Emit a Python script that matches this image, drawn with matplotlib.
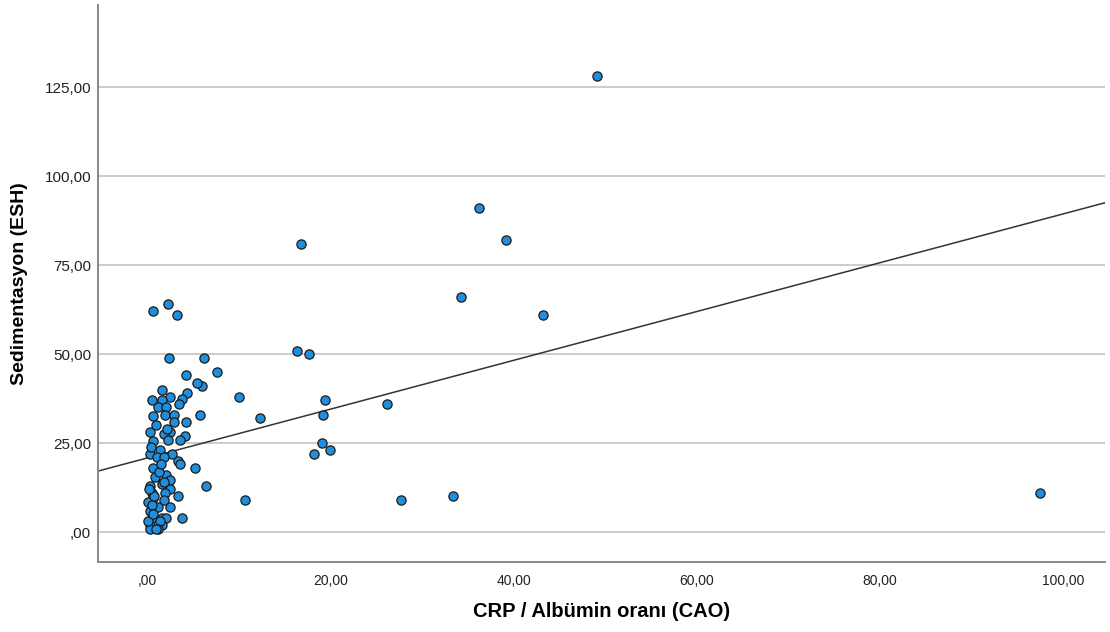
import numpy as np
import matplotlib.pyplot as plt
from matplotlib.ticker import FuncFormatter

# CRP / Albumin ratio (x) and sedimentation (y)
cao = [49.1, 36.2, 39.2, 16.8, 34.3, 43.2, 16.4, 17.7, 26.2, 19.4,
       19.2, 19.1, 18.2, 20.0, 12.3, 10.0, 7.6, 6.2, 6.0, 5.4,
       4.4, 4.2, 5.8, 4.3, 4.1, 5.2, 6.4, 10.7, 27.7, 33.4,
       97.4, 0.6, 2.3, 3.3, 2.4, 3.8, 3.4,
       1.6, 2.5, 0.5, 1.6, 3.8, 3.5, 1.2, 2.1, 0.7, 2.0,
       2.9, 2.9, 0.3, 2.5, 1.8, 3.6, 0.7, 2.3, 0.3, 1.4,
       2.7, 1.1, 1.8, 3.4, 3.6, 0.7, 0.9, 2.1, 2.5, 0.3,
       1.6, 2.5, 0.5, 2.0, 0.7, 1.8, 0.1, 2.5, 1.2, 0.3,
       1.6, 0.5, 2.1, 0.3, 1.6, 1.4, 0.3, 1.2, 0.1, 0.5,
       1.0, 0.4, 1.3, 0.8, 1.9, 0.6, 1.5, 2.2, 0.2, 1.0]
esh = [128.0, 91.0, 82.0, 81.0, 66.0, 61.0, 51.0, 50.0, 36.0, 37.0,
       33.0, 25.0, 22.0, 23.0, 32.0, 38.0, 45.0, 49.0, 41.0, 42.0,
       39.0, 44.0, 33.0, 31.0, 27.0, 18.0, 13.0, 9.0, 9.0, 10.0,
       11.0, 62.0, 64.0, 61.0, 49.0, 4.0, 10.0,
       40.0, 38.0, 37.0, 37.0, 37.5, 36.0, 35.0, 35.0, 32.5, 33.0,
       33.0, 31.0, 28.0, 28.0, 27.5, 26.0, 25.5, 26.0, 22.0, 23.0,
       22.0, 21.0, 21.0, 20.0, 19.0, 18.0, 15.5, 16.0, 14.5, 13.0,
       13.5, 12.0, 11.0, 11.0, 9.5, 9.0, 8.5, 7.0, 7.0, 6.0,
       4.0, 4.0, 4.0, 2.0, 2.0, 3.0, 1.0, 1.0, 3.0, 7.5,
       30.0, 24.0, 17.0, 10.0, 14.0, 5.0, 19.0, 29.0, 12.0, 1.0]

# fit line as shown in the original (intercept, slope)
fit_intercept = 20.8
fit_slope = 0.686

xlim = (-5.35, 104.5)
ylim = (-8.4, 148)


def spss_fmt(v, pos):
    s = f"{v:.2f}".replace('.', ',')
    if s.startswith('0,'):
        s = s[1:]
    return s


plt.rcParams['font.family'] = ['Liberation Sans', 'DejaVu Sans']

fig = plt.figure(figsize=(11.1, 6.32), dpi=100)
ax = fig.add_axes([0.0883, 0.1108, 0.907, 0.881])

ax.scatter(cao, esh, s=44, c='#1f8fdd', edgecolors='#1a1a1a', linewidths=0.9, zorder=3)

xs = np.array(xlim)
ax.plot(xs, fit_intercept + fit_slope * xs, color='#333333', linewidth=1.1, zorder=2)

ax.set_xlim(xlim)
ax.set_ylim(ylim)
ax.set_xticks([0, 20, 40, 60, 80, 100])
ax.set_yticks([0, 25, 50, 75, 100, 125])
ax.xaxis.set_major_formatter(FuncFormatter(spss_fmt))
ax.yaxis.set_major_formatter(FuncFormatter(spss_fmt))
ax.tick_params(length=0, colors='#222222')
ax.tick_params(axis='y', labelsize=11, pad=5)
ax.tick_params(axis='x', labelsize=10, pad=9)

ax.grid(axis='y', color='#cccccc', linewidth=1.4, zorder=0)
ax.set_axisbelow(True)
for side in ['top', 'right']:
    ax.spines[side].set_visible(False)
for side in ['left', 'bottom']:
    ax.spines[side].set_color('#888888')
    ax.spines[side].set_linewidth(1.4)

ax.set_xlabel('CRP / Albümin oranı (CAO)', fontsize=14.5, fontweight='bold', labelpad=10)
ax.set_ylabel('Sedimentasyon (ESH)', fontsize=14, fontweight='bold', labelpad=12)

fig.savefig('out.png', dpi=100)
